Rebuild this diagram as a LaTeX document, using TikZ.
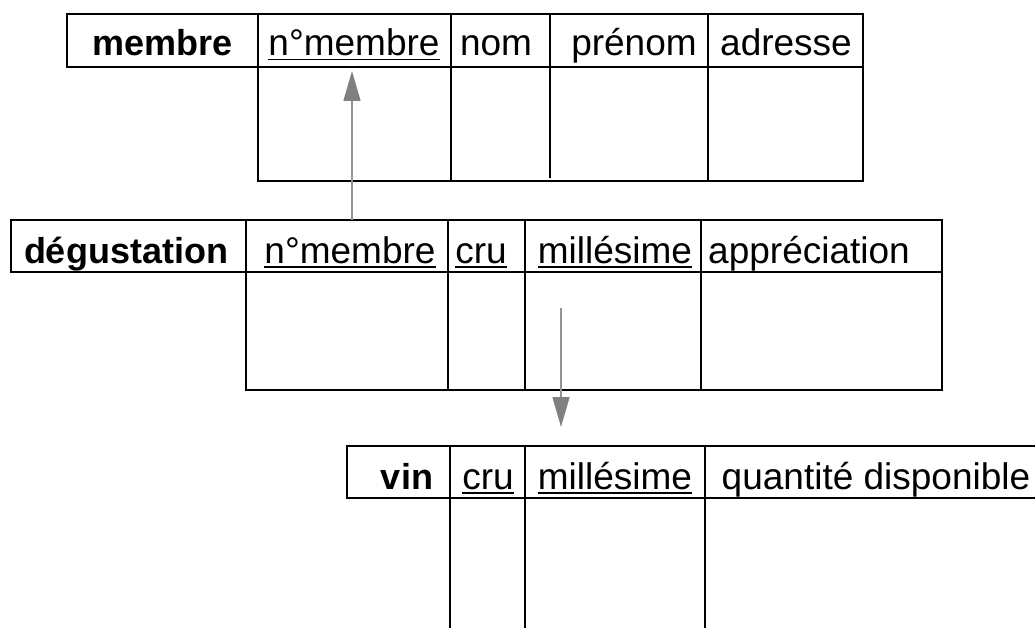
\documentclass[tikz,border=0pt]{standalone}
\usepackage{fontspec}
\setmainfont{Liberation Sans}
\usetikzlibrary{arrows.meta}
\newcommand\keyu[1]{\setbox0\hbox{#1}\rlap{\rule[-4.5pt]{\wd0}{1.8pt}}\box0}
\begin{document}
\begin{tikzpicture}[x=1pt,y=-1pt,
 tbl/.style={line width=1.5pt, draw=black},
 lbl/.style={anchor=base, inner sep=0pt, font=\fontsize{37}{44}\selectfont},
 ttl/.style={anchor=base, inner sep=0pt, font=\fontsize{36}{44}\selectfont\bfseries},
 fk/.style={draw=gray!85, line width=1.5pt, -{Triangle[length=30pt,width=17pt,color=gray,fill=gray]}}]
\useasboundingbox[fill=white] (0,0) rectangle (1035,628);
% membre
\draw[tbl] (67,14) rectangle (863,67);
\draw[tbl] (258,14) -- (258,181) -- (863,181) -- (863,67);
\draw[tbl] (451,14) -- (451,181);
\draw[tbl] (550,14) -- (550,178);
\draw[tbl] (708,14) -- (708,181);
\node[ttl] (mT) at (163,56) {membre};
\node[lbl] (mA) at (354,56) {\keyu{n°membre}};
\node[lbl] (mB) at (496,56) {nom};
\node[lbl] (mC) at (634,56) {prénom};
\node[lbl] (mD) at (786,56) {adresse};
% degustation
\draw[tbl] (11,220) rectangle (942,272);
\draw[tbl] (246,220) -- (246,390) -- (942,390) -- (942,272);
\draw[tbl] (448,220) -- (448,390);
\draw[tbl] (525,220) -- (525,390);
\draw[tbl] (701,220) -- (701,390);
\node[ttl] (dT) at (126,263) {dégustation};
\node[lbl] (dA) at (350,263) {\keyu{n°membre}};
\node[lbl] (dB) at (481,263) {\keyu{cru}};
\node[lbl] (dC) at (615,263) {\keyu{millésime}};
\node[lbl] (dD) at (809,263) {appréciation};
% vin
\draw[tbl] (1035,446) -- (347,446) -- (347,498) -- (1035,498);
\draw[tbl] (450,446) -- (450,628);
\draw[tbl] (525,446) -- (525,628);
\draw[tbl] (705,446) -- (705,628);
\node[ttl] (vT) at (407,489) {vin};
\node[lbl] (vA) at (488,489) {\keyu{cru}};
\node[lbl] (vB) at (615,489) {\keyu{millésime}};
\node[lbl] (vC) at (876,489) {quantité disponible};
% foreign keys
\coordinate (f1s) at (352,220);
\coordinate (f1e) at (352,71);
\coordinate (f2s) at (561,308);
\coordinate (f2e) at (561,427);
\draw[fk] (f1s) -- (f1e);
\draw[fk] (f2s) -- (f2e);
\end{tikzpicture}
\end{document}
